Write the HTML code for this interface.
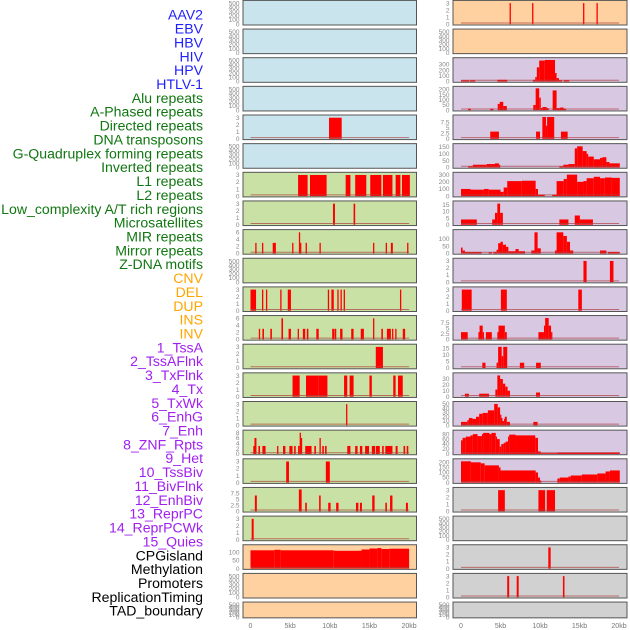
<!DOCTYPE html>
<html><head><meta charset="utf-8"><style>
html,body{margin:0;padding:0;background:#fff;width:630px;height:630px;overflow:hidden}
svg{display:block}
text{font-family:"Liberation Sans",sans-serif}
</style></head><body>
<svg id="chart" width="630" height="630" viewBox="0 0 630 630" xmlns="http://www.w3.org/2000/svg"></svg>
<script>
// ---- data ----
const trackLabels = ["AAV2","EBV","HBV","HIV","HPV","HTLV-1","Alu repeats","A-Phased repeats","Directed repeats","DNA transposons","G-Quadruplex forming repeats","Inverted repeats","L1 repeats","L2 repeats","Low_complexity A/T rich regions","Microsatellites","MIR repeats","Mirror repeats","Z-DNA motifs","CNV","DEL","DUP","INS","INV","1_TssA","2_TssAFlnk","3_TxFlnk","4_Tx","5_TxWk","6_EnhG","7_Enh","8_ZNF_Rpts","9_Het","10_TssBiv","11_BivFlnk","12_EnhBiv","13_ReprPC","14_ReprPCWk","15_Quies","CPGisland","Methylation","Promoters","ReplicationTiming","TAD_boundary"];
const labelGroups = ["v","v","v","v","v","v","r","r","r","r","r","r","r","r","r","r","r","r","r","s","s","s","s","s","c","c","c","c","c","c","c","c","c","c","c","c","c","c","c","o","o","o","o","o"];
const xTickLabels = ["0","5kb","10kb","15kb","20kb"];
const xTickValues = [0,5,10,15,20];
const t3 = [0,1,2,3];
const tEmpty = [0,100,200,300,400,500];
// each series: [startKb, endKb, value]
const sAAV2=[], sEBV=[], sHBV=[], sHIV=[], sHTLV=[], sDNAtrans=[];
const sHPV=[[9.9,11.5,3]];
const sAlu=[[6.0,7.2,3],[7.5,9.6,3],[12.0,12.6,3],[13.2,14.6,3],[15.1,16.5,3],[16.7,17.9,3],[18.3,18.9,3],[19.1,20.1,3]];
const sAPhased=[[10.4,10.65,3],[13.0,13.2,3]];
const sDirected=[[0.6,0.75,3],[1.45,1.6,3],[2.8,3.2,3],[5.25,5.4,3],[6.1,6.25,6],[6.25,6.4,3],[6.95,7.1,3],[8.7,8.85,3],[15.45,15.6,3],[17.05,17.2,3],[17.7,17.95,3],[19.75,19.9,3]];
const sGQuad=[[0.0,0.7,3],[1.45,1.6,3],[1.95,2.1,3],[3.75,3.9,3],[4.7,5.1,3],[9.75,9.9,3],[10.2,10.5,3],[10.95,11.1,3],[11.35,11.5,3],[11.75,11.9,3],[18.85,19.0,3]];
const sInverted=[[1.05,1.2,3],[1.5,1.7,3],[2.5,2.7,3],[3.9,4.1,6],[4.8,5.1,3],[5.95,6.1,3],[6.6,6.9,3],[7.1,7.3,3],[8.3,8.6,3],[10.3,10.6,3],[10.65,10.8,3],[11.3,11.6,3],[12.7,13.0,3],[13.9,14.3,3],[15.45,15.6,6],[16.5,16.7,3],[17.2,17.7,3],[17.85,18.0,3],[18.25,18.4,3],[19.2,19.5,3]];
const sL1=[[15.8,16.7,3]];
const sL2=[[5.3,6.2,3],[7.0,8.6,3],[8.6,9.7,3],[11.8,12.2,3],[12.5,13.0,3],[15.0,15.3,3],[18.0,18.3,3],[18.6,19.2,3]];
const sLowComp=[[12.05,12.2,3]];
const sMicro=[[0.35,0.5,3],[0.5,0.75,6],[1.0,1.2,3],[1.5,1.9,3],[3.35,3.5,3],[4.1,4.4,3],[4.9,5.3,3],[5.5,5.7,3],[6.0,6.2,3],[6.2,6.35,8],[6.35,6.5,6],[6.9,7.7,3],[8.05,8.25,3],[8.7,8.85,6],[9.05,9.25,3],[9.4,9.6,3],[12.2,12.6,3],[13.2,13.5,3],[13.8,14.1,3],[14.45,14.95,3],[15.3,15.7,3],[15.8,16.3,3],[16.6,16.8,3],[17.0,17.9,3],[18.3,18.55,3],[19.3,19.5,3],[19.7,19.9,3]];
const sMIR=[[4.5,4.85,3],[9.5,10.0,3]];
const sMirror=[[0.55,0.8,6.5],[6.1,6.45,9],[6.9,7.1,3.5],[8.65,8.85,6.5],[9.8,10.1,3.5],[10.8,11.1,3.5],[13.3,13.6,3.5],[13.8,14.05,3.5],[15.35,15.65,6.5],[17.0,17.2,3.5],[17.6,17.9,6.5],[19.6,19.85,3.5]];
const sZDNA=[[0.15,0.4,3]];
const sCNV=[[0,3.0,113],[3.0,3.8,116],[3.8,10.5,113],[10.5,14.0,110],[14.0,15.0,118],[15.0,16.0,124],[16.0,16.5,127],[16.5,17.5,121],[17.5,20.0,123]];
const sDEL=[], sDUP=[], sINV=[], sMeth=[], sTAD=[];
const sINS=[[6.15,6.3,3],[9.0,9.15,3],[15.45,15.6,3],[17.15,17.3,3]];
const sTssA=[[0,1.05,20],[1.15,1.8,20],[4.6,5.85,30],[9.1,9.4,30],[9.4,9.6,80],[9.6,9.9,250],[9.9,10.6,370],[10.6,11.9,380],[11.9,12.1,150],[12.1,12.4,60],[12.4,12.8,20],[13.0,13.7,20]];
const sTssAFlnk=[[0.9,1.25,15],[3.7,4.1,15],[4.65,4.9,60],[4.9,5.35,80],[5.35,5.8,40],[9.15,9.45,50],[9.45,9.9,210],[9.9,10.1,120],[10.1,10.3,20],[10.3,10.85,30],[10.85,11.1,20],[11.6,12.1,190],[12.1,12.5,20],[12.5,13.0,25],[13.0,13.3,15]];
const sTxFlnk=[[3.7,4.8,3.3],[9.5,10.0,3.3],[10.3,10.75,10],[10.75,10.9,6],[10.9,11.8,10],[12.65,13.5,3.3]];
const sTx=[[0.9,1.5,8],[1.5,3.25,20],[3.25,4.3,25],[4.3,4.8,30],[4.8,4.95,20],[12.45,12.95,8],[12.95,13.6,20],[13.6,14.4,25],[14.4,14.7,140],[14.7,15.4,155],[15.4,15.9,120],[15.9,16.1,100],[16.1,16.8,80],[16.8,17.6,60],[17.6,17.9,70],[17.9,18.4,75],[18.4,18.8,40],[18.8,20.1,30]];
const sTxWk=[[0,1.2,100],[1.2,2.9,90],[2.9,3.5,100],[3.5,5.0,90],[5.0,5.4,60],[5.4,5.85,120],[5.85,7.7,210],[7.7,9.45,215],[9.45,9.75,100],[9.75,10.6,20],[11.55,12.1,20],[12.1,13.0,210],[13.0,13.4,240],[13.4,14.7,300],[14.7,15.5,200],[15.5,15.9,210],[15.9,16.8,250],[16.8,17.6,270],[17.6,18.2,250],[18.2,19.1,260],[19.1,20.1,255]];
const sEnhG=[[0,2.0,4],[3.95,4.3,4],[4.3,4.6,9],[4.6,4.95,16],[4.95,5.3,9],[12.45,13.6,4],[14.4,15.05,7],[15.05,16.7,4]];
const sEnh=[[0,0.2,40],[0.2,0.5,20],[0.5,0.95,10],[0.95,2.6,10],[3.5,3.9,8],[4.1,4.5,10],[4.5,4.7,25],[4.7,5.0,70],[5.0,5.3,80],[5.3,5.7,60],[5.7,6.0,45],[6.0,6.9,15],[6.9,7.3,30],[7.3,8.1,15],[8.9,9.3,20],[9.3,9.7,145],[9.7,10.1,35],[11.9,12.1,20],[12.1,12.95,145],[12.95,13.4,120],[13.4,13.8,80],[13.8,14.2,20],[17.6,18.4,20],[18.6,20.1,10]];
const sZNF=[[15.5,15.9,3],[18.85,19.3,3]];
const sHet=[[0.1,1.35,3],[5.05,5.8,3],[14.85,15.3,3]];
const sTssBiv=[[0,0.85,3.3],[2.2,2.35,3.3],[2.35,2.75,6.3],[2.75,2.8,3.3],[3.15,3.9,3.3],[4.6,4.75,3.3],[4.75,5.55,6.3],[5.55,5.8,3.3],[9.8,10.5,3.3],[10.5,10.65,6.3],[10.65,11.1,9.8],[11.1,11.4,6.3],[11.4,11.55,3.3]];
const sBivFlnk=[[2.7,3.1,4],[4.5,4.7,4],[4.7,5.15,16],[5.15,5.35,9],[5.35,5.85,16],[7.45,8.0,4],[9.5,10.1,4]];
const sEnhBiv=[[0.5,1.0,5],[2.3,3.55,5],[4.35,4.6,12],[4.6,4.95,36],[4.95,5.3,30],[5.3,5.6,22],[5.6,5.9,17],[5.9,6.2,10],[9.5,10.0,7]];
const sReprPC=[[0,0.8,8],[0.8,1.0,12],[1.0,1.45,17],[1.45,1.9,15],[1.9,2.3,20],[2.3,2.75,27],[2.75,3.4,29],[3.4,4.2,35],[4.2,4.65,50],[4.65,4.95,42],[4.95,5.05,25],[5.05,5.25,17],[5.25,5.45,10],[5.45,5.55,15],[5.55,5.8,20],[5.8,6.2,8],[9.15,9.7,8]];
const sReprPCWk=[[0,0.2,55],[0.2,0.6,65],[0.6,1.2,70],[1.2,1.5,75],[1.5,2.1,80],[2.1,2.65,72],[2.65,2.8,80],[2.8,3.6,85],[3.6,3.85,80],[3.85,4.4,85],[4.4,4.55,70],[4.55,4.9,60],[4.9,5.1,30],[5.1,5.4,40],[5.4,5.65,45],[5.65,5.95,50],[5.95,6.1,70],[6.1,6.9,78],[6.9,9.4,75],[9.4,9.75,65],[9.75,10.1,10],[10.1,12.2,3],[12.2,20.1,6]];
const sQuies=[[0,1.25,210],[1.25,2.5,200],[2.5,3.0,190],[3.0,4.8,170],[4.8,5.0,150],[5.0,9.45,120],[9.45,9.75,100],[9.75,10.0,50],[10.0,10.15,20],[12.2,12.5,40],[12.5,13.6,50],[13.6,13.9,60],[13.9,15.3,70],[15.3,17.25,80],[17.25,18.3,90],[18.3,18.85,110],[18.85,20.1,120]];
const sCPG=[[4.7,5.55,3],[9.8,10.65,3],[10.85,11.9,3]];
const sPromoters=[[11.05,11.35,3]];
const sRepTiming=[[5.85,6.1,3],[7.05,7.3,3],[12.9,13.1,3]];

const leftSeries=[sAAV2,sEBV,sHBV,sHIV,sHPV,sHTLV,sAlu,sAPhased,sDirected,sDNAtrans,sGQuad,sInverted,sL1,sL2,sLowComp,sMicro,sMIR,sMirror,sZDNA,sCNV,sDEL,sDUP];
const rightSeries=[sINS,sINV,sTssA,sTssAFlnk,sTxFlnk,sTx,sTxWk,sEnhG,sEnh,sZNF,sHet,sTssBiv,sBivFlnk,sEnhBiv,sReprPC,sReprPCWk,sQuies,sCPG,sMeth,sPromoters,sRepTiming,sTAD];
const leftTicks=[tEmpty,tEmpty,tEmpty,tEmpty,t3,tEmpty,t3,t3,[0,2,4,6],tEmpty,t3,[0,2,4,6],t3,t3,t3,[0,2,4,6,8],t3,[0,2.5,5,7.5],t3,[0,50,100],tEmpty,tEmpty];
const rightTicks=[t3,tEmpty,[0,100,200,300],[0,50,100,150,200],[0,2.5,5,7.5],[0,50,100,150],[0,100,200,300],[0,5,10,15],[0,50,100],t3,t3,[0,2.5,5,7.5],[0,5,10,15],[0,10,20,30],[0,10,20,30,40,50],[0,20,40,60,80],[0,50,100,150,200],t3,tEmpty,t3,t3,tEmpty];
const leftMax=[520,520,520,520,3.1,520,3.1,3.1,6.2,520,3.1,6.2,3.1,3.1,3.1,8.2,3.1,9.0,3.1,135,520,520];
const rightMax=[3.1,520,385,210,10,160,305,16.5,150,3.1,3.1,10,16.5,37,51,88,215,3.1,520,3.1,3.1,520];

// ---- drawing ----
const NS="http://www.w3.org/2000/svg";
const svg=document.getElementById('chart');
function mk(tag,attrs,parent){const e=document.createElementNS(NS,tag);for(const k in attrs)e.setAttribute(k,attrs[k]);(parent||svg).appendChild(e);return e;}
const colorMap={v:"#1f1fff",r:"#117711",s:"#ffa500",c:"#a020f0",o:"#000000"};
trackLabels.forEach((lab,i)=>{
  const t=mk('text',{x:203,y:16+13.86*i,'text-anchor':'end','dominant-baseline':'middle','font-size':'14.1',fill:colorMap[labelGroups[i]]});
  t.textContent=lab;
  
  
});
function bgColor(col,i){
  if(col===0){ if(i<6) return "#c9e4ec"; if(i<19) return "#c9e1a4"; return "#ffd1a0"; }
  if(i<2) return "#ffd1a0"; if(i<17) return "#d8c8e2"; return "#d1d1d1";
}
const cols=[{x0:243,x1:416.5,z:250.5,k:7.93,series:leftSeries,ticks:leftTicks,max:leftMax,off:0},
            {x0:453,x1:627,z:461,k:7.9,series:rightSeries,ticks:rightTicks,max:rightMax,off:22}];
cols.forEach((c,ci)=>{
  const xScale=kb=>c.z+kb*c.k;
  for(let i=0;i<22;i++){
    const top=0.4+28.65*i, h=(i===21)?15.8:24.6;
    const g=mk('g',{});
    
    
    mk('rect',{x:c.x0,y:top,width:c.x1-c.x0,height:h,fill:bgColor(ci,i)},g);
    const base=top+h-0.8, span=h-2.8;
    const yScale=v=>base-v/c.max[i]*span;
    const data=c.series[i];
    if(data.length){
      data.forEach(d=>{
        const x1=xScale(d[0]),x2=xScale(d[1]);
        const r=mk('rect',{x:x1,y:yScale(d[2]),width:Math.max(1.3,x2-x1),height:base-yScale(d[2]),fill:"#ff0000"},g);
        
        
      });
      mk('line',{x1:xScale(0),x2:xScale(20),y1:base-1.2,y2:base-1.2,stroke:"#b04040","stroke-width":1,opacity:0.7},g);
    }
    mk('rect',{x:c.x0,y:top,width:c.x1-c.x0,height:h,fill:"none",stroke:"#555","stroke-width":1},g);
    c.ticks[i].forEach(tv=>{
      const tt=mk('text',{x:c.x0-3.5,y:yScale(tv)+2.2,'text-anchor':'end','font-size':'6.5',fill:"#888"},g);
      tt.textContent=String(tv);
      
      
    });
  }
  xTickValues.forEach((v,j)=>{
    const t=mk('text',{x:xScale(v),y:628,'text-anchor':'middle','font-size':'7',fill:"#777"});
    t.textContent=xTickLabels[j];
    
    
  });
});
</script>
</body></html>
